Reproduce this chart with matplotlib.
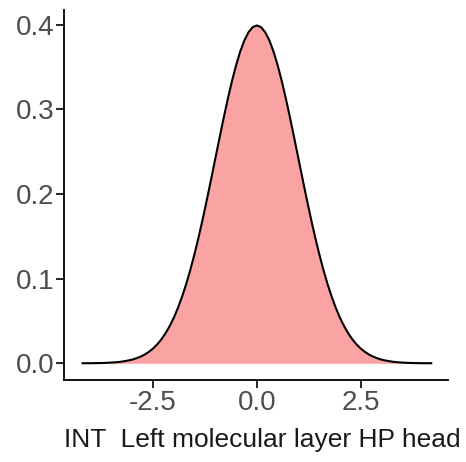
import matplotlib
matplotlib.use("Agg")
from matplotlib import pyplot as plt

# density values, every 0.1 on x
xs = [round(-4.2 + 0.1 * i, 1) for i in range(85)]
right_half = [0.3989, 0.3970, 0.3910, 0.3814, 0.3683, 0.3521, 0.3332, 0.3123, 0.2897, 0.2661,
              0.2420, 0.2179, 0.1942, 0.1714, 0.1497, 0.1295, 0.1109, 0.0940, 0.0790, 0.0656,
              0.0540, 0.0440, 0.0355, 0.0283, 0.0224, 0.0175, 0.0136, 0.0104, 0.0079, 0.0060,
              0.0044, 0.0033, 0.0024, 0.0017, 0.0012, 0.0009, 0.0006, 0.0004, 0.0003, 0.0002,
              0.0001, 0.0001, 0.0001]
density = right_half[:0:-1] + right_half

x_ticks = [-2.5, 0.0, 2.5]
y_ticks = [0.0, 0.1, 0.2, 0.3, 0.4]
xlabel = "INT  Left molecular layer HP head"

plt.rcParams["font.family"] = ["Liberation Sans", "DejaVu Sans"]

fig = plt.figure(figsize=(4.66, 4.62), dpi=100)
ax = fig.add_axes([0.137, 0.1775, 0.824, 0.8005])

ax.fill_between(xs, density, 0, color="#F9A3A3", linewidth=0)
ax.plot(xs, density, color="black", linewidth=1.5, solid_joinstyle="round")

ax.set_xlim(-4.65, 4.6)
ax.set_ylim(-0.0197, 0.417)
ax.set_xticks(x_ticks)
ax.set_xticklabels(["-2.5", "0.0", "2.5"])
ax.set_yticks(y_ticks)
ax.set_yticklabels(["0.0", "0.1", "0.2", "0.3", "0.4"])

for side in ["top", "right"]:
    ax.spines[side].set_visible(False)
for side in ["left", "bottom"]:
    ax.spines[side].set_linewidth(1.3)

ax.tick_params(axis="both", length=6, width=1.2, color="black",
               labelsize=20, labelcolor="#4D4D4D", pad=1)
ax.set_xlabel(xlabel, fontsize=19, color="#1A1A1A", labelpad=9)
ax.xaxis.label.set_x(0.518)

fig.savefig("out.png", dpi=100)
